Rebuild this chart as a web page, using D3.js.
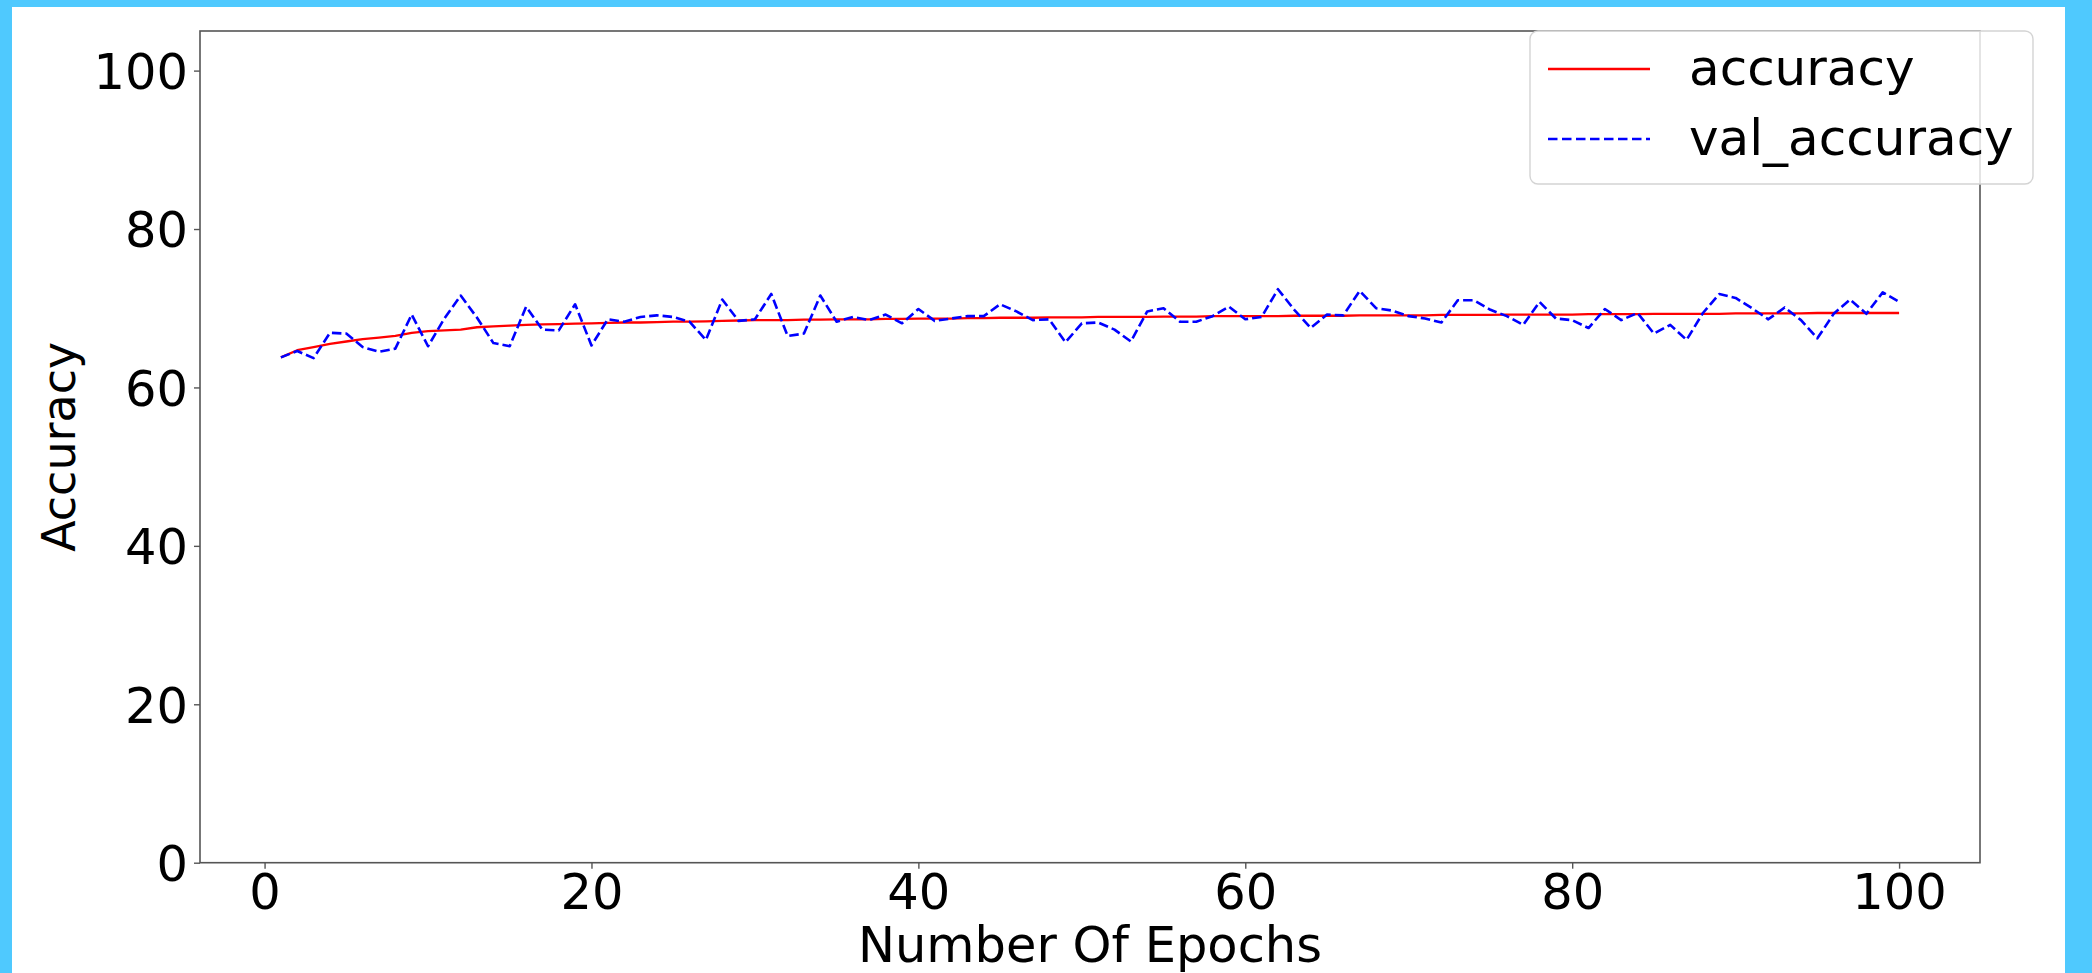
<!DOCTYPE html>
<html>
<head>
<meta charset="utf-8">
<script src="https://cdn.jsdelivr.net/npm/d3@7"></script>
<style>
  html, body { margin: 0; padding: 0; background: #4fc9fe; }
  svg { display: block; }
  text { font-family: "DejaVu Sans", sans-serif; fill: #000; }
</style>
</head>
<body>
<script>
// ---- data ----
const epochs = d3.range(1, 101);
const accuracy = [
  63.8, 64.7, 65.1, 65.5, 65.8, 66.1, 66.3, 66.5, 66.9, 67.1,
  67.2, 67.3, 67.6, 67.7, 67.8, 67.9, 67.95, 68.0, 68.05, 68.1,
  68.15, 68.2, 68.2, 68.25, 68.3, 68.3, 68.35, 68.4, 68.45, 68.5,
  68.5, 68.5, 68.55, 68.55, 68.6, 68.6, 68.6, 68.65, 68.65, 68.7,
  68.7, 68.7, 68.75, 68.75, 68.8, 68.8, 68.8, 68.85, 68.85, 68.85,
  68.9, 68.9, 68.9, 68.9, 68.95, 68.95, 68.95, 69.0, 69.0, 69.0,
  69.0, 69.0, 69.05, 69.05, 69.05, 69.05, 69.1, 69.1, 69.1, 69.1,
  69.1, 69.15, 69.15, 69.15, 69.15, 69.2, 69.2, 69.2, 69.2, 69.2,
  69.25, 69.25, 69.25, 69.25, 69.3, 69.3, 69.3, 69.3, 69.3, 69.35,
  69.35, 69.35, 69.35, 69.35, 69.4, 69.4, 69.4, 69.4, 69.4, 69.4
];
const valAccuracy = [
  63.8, 64.6, 63.7, 66.9, 66.8, 65.1, 64.5, 64.9, 69.2, 65.2,
  68.7, 71.6, 68.8, 65.6, 65.2, 70.2, 67.3, 67.2, 70.5, 65.3,
  68.6, 68.3, 68.9, 69.1, 68.9, 68.3, 66.0, 71.1, 68.4, 68.6,
  71.8, 66.5, 66.8, 71.6, 68.3, 68.9, 68.5, 69.2, 68.1, 69.9,
  68.4, 68.7, 69.0, 69.0, 70.5, 69.6, 68.5, 68.6, 65.7, 68.1,
  68.2, 67.3, 65.8, 69.6, 70.0, 68.3, 68.3, 69.0, 70.2, 68.6,
  68.9, 72.4, 69.8, 67.5, 69.2, 69.1, 72.2, 70.0, 69.7, 69.0,
  68.7, 68.2, 71.0, 71.0, 69.8, 69.0, 67.9, 70.8, 68.7, 68.5,
  67.5, 69.9, 68.5, 69.4, 66.8, 67.9, 66.0, 69.4, 71.8, 71.3,
  70.0, 68.6, 70.1, 68.5, 66.2, 69.3, 71.1, 69.3, 72.0, 70.8
];
const xTicks = [0, 20, 40, 60, 80, 100];
const yTicks = [0, 20, 40, 60, 80, 100];
const seriesNames = ["accuracy", "val_accuracy"];
const xLabel = "Number Of Epochs";
const yLabel = "Accuracy";

// ---- layout ----
const W = 2092, H = 973;
const plot = { left: 200, right: 1980, top: 31, bottom: 862.7 };

const svg = d3.select("body").append("svg").attr("width", W).attr("height", H);

// white page inside cyan frame
svg.append("rect").attr("x", 12).attr("y", 7).attr("width", 2065 - 12).attr("height", H - 7).attr("fill", "#fff");

const x = d3.scaleLinear().domain([-3.95, 104.95]).range([plot.left, plot.right]);
const y = d3.scaleLinear().domain([0, 105]).range([plot.bottom, plot.top]);

const line = d3.line().x((d, i) => x(epochs[i])).y(d => y(d));

svg.append("path").datum(accuracy)
  .attr("d", line).attr("fill", "none").attr("stroke", "#ff0000")
  .attr("stroke-width", 2.3).attr("stroke-linejoin", "round");

svg.append("path").datum(valAccuracy)
  .attr("d", line).attr("fill", "none").attr("stroke", "#0000ff")
  .attr("stroke-width", 2.6).attr("stroke-dasharray", "9.5,4").attr("stroke-linejoin", "round");

const spineColor = "#555";

// axes
const gx = svg.append("g").attr("transform", `translate(0,${plot.bottom})`)
  .call(d3.axisBottom(x).tickValues(xTicks).tickSize(6).tickPadding(5).tickFormat(d3.format("d")));
const gy = svg.append("g").attr("transform", `translate(${plot.left},0)`)
  .call(d3.axisLeft(y).tickValues(yTicks).tickSize(6).tickPadding(6).tickFormat(d3.format("d")));

[gx, gy].forEach(g => {
  g.select(".domain").remove();
  g.selectAll(".tick line").attr("stroke", spineColor).attr("stroke-width", 1.4);
  g.selectAll(".tick text").attr("font-size", "49.5px").attr("font-family", "DejaVu Sans").attr("fill", "#000");
});
gy.selectAll(".tick text").attr("dy", "0.36em");

// spines
svg.append("rect")
  .attr("x", plot.left).attr("y", plot.top)
  .attr("width", plot.right - plot.left).attr("height", plot.bottom - plot.top)
  .attr("fill", "none").attr("stroke", spineColor).attr("stroke-width", 1.6);

// axis labels
svg.append("text").attr("x", (plot.left + plot.right) / 2).attr("y", 962)
  .attr("text-anchor", "middle").attr("font-size", "49.5px").text(xLabel);
svg.append("text").attr("transform", `translate(75,${(plot.top + plot.bottom) / 2}) rotate(-90)`)
  .attr("text-anchor", "middle").attr("font-size", "46px").text(yLabel);

// legend
const lg = svg.append("g");
lg.append("rect").attr("x", 1530).attr("y", 31).attr("width", 503).attr("height", 153)
  .attr("rx", 8).attr("ry", 8)
  .attr("fill", "#fff").attr("fill-opacity", 0.8)
  .attr("stroke", "#d4d4d4").attr("stroke-width", 1.4);
const legendItems = [
  { name: seriesNames[0], color: "#ff0000", dash: null, y: 69, w: 2.3 },
  { name: seriesNames[1], color: "#0000ff", dash: "9.5,4.5", y: 139, w: 2.6 }
];
legendItems.forEach(it => {
  lg.append("line").attr("x1", 1548).attr("x2", 1650).attr("y1", it.y).attr("y2", it.y)
    .attr("stroke", it.color).attr("stroke-width", it.w)
    .attr("stroke-dasharray", it.dash);
  lg.append("text").attr("x", 1689).attr("y", it.y + 16)
    .attr("font-size", "50px").text(it.name);
});
</script>
</body>
</html>
